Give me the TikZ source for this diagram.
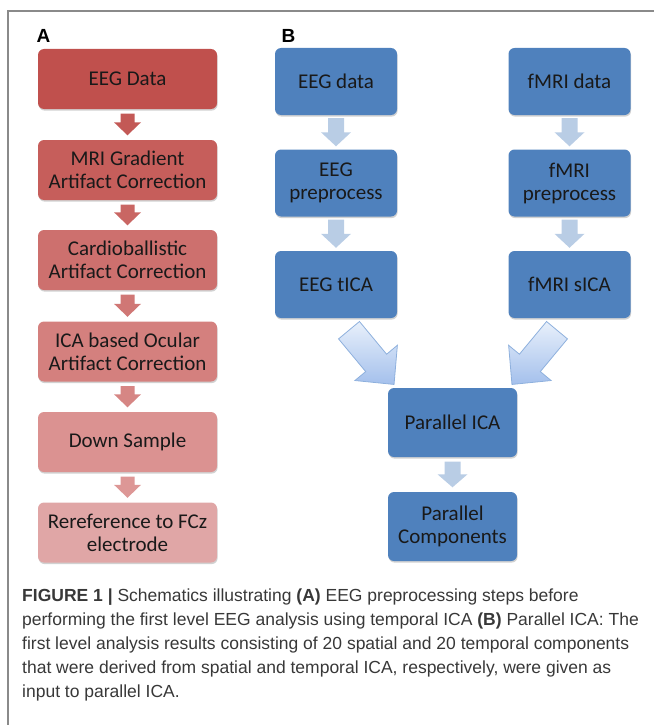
\documentclass[tikz,border=0pt]{standalone}
\usepackage{fontspec}
\setmainfont{Carlito}
\newfontfamily\capfont{Liberation Sans}
\usetikzlibrary{calc,shadows}
\definecolor{aone}{HTML}{C0504D}
\definecolor{atwo}{HTML}{C65E5B}
\definecolor{athree}{HTML}{CD706E}
\definecolor{afour}{HTML}{D4807E}
\definecolor{afive}{HTML}{DB9291}
\definecolor{asix}{HTML}{E0A6A6}
\definecolor{bblue}{HTML}{4F81BD}
\definecolor{bsmall}{HTML}{B9CDE5}
\definecolor{bigedge}{HTML}{8EB0DD}
\definecolor{bigtop}{HTML}{E8F0FB}
\definecolor{bigbot}{HTML}{A4C0EC}
\definecolor{framegray}{HTML}{8A8A8A}
\definecolor{capgray}{HTML}{383838}
\newcommand\vblock[7]{%
  \fill[#7] let \p1=(#1.south), \p2=(#2.north) in
    ({\x1-#4},{\y1-#3}) -- ({\x1+#4},{\y1-#3}) -- ({\x1+#4},{\y2+#3+#6})
    -- ({\x1+#5},{\y2+#3+#6}) -- ({\x1},{\y2+#3}) -- ({\x1-#5},{\y2+#3+#6})
    -- ({\x1-#4},{\y2+#3+#6}) -- cycle;}
\newcommand\bigarr[2]{%
  \begin{scope}[shift={(#1)},rotate=#2]
    \draw[bigstyle] (0pt,13.6pt) -- (42.5pt,13.6pt) -- (42.5pt,27.6pt) -- (70.5pt,0pt)
      -- (42.5pt,-27.6pt) -- (42.5pt,-13.6pt) -- (0pt,-13.6pt) -- cycle;
  \end{scope}}
\begin{document}
\begin{tikzpicture}[x=1pt,y=-1pt,
  shad/.style={drop shadow={shadow xshift=0.6pt,shadow yshift=-1.6pt,opacity=0.18,fill=black}},
  abox/.style={shad,rounded corners=6pt,minimum width=179pt,minimum height=60pt,
    align=center,inner sep=2pt,text=black!90,font=\fontsize{21}{23}\selectfont},
  bbox/.style={shad,rounded corners=6pt,fill=bblue,minimum width=122pt,minimum height=67pt,
    align=center,inner sep=2pt,text=black!90,font=\fontsize{21}{23}\selectfont},
  bigstyle/.style={draw=bigedge,line width=0.8pt,line join=miter,top color=bigtop,bottom color=bigbot},
  lab/.style={font=\capfont\bfseries\fontsize{19}{19}\selectfont,inner sep=0pt,anchor=south west}]
\useasboundingbox (0,0) rectangle (654,725);
% frame
\draw[framegray,line width=1.5pt] (8,725) -- (8,11) -- (654,11);
% labels
\node[lab] (la) at (36.5,43) {A};
\node[lab] (lb) at (281.5,43) {B};
% panel A
\node[abox,fill=aone]   (a1) at (127.5,79)    {EEG Data};
\node[abox,fill=atwo]   (a2) at (127.5,170)   {MRI Gradient\\Artifact Correction};
\node[abox,fill=athree] (a3) at (127.5,260)   {Cardioballistic\\Artifact Correction};
\node[abox,fill=afour]  (a4) at (127.5,351.5) {ICA based Ocular\\Artifact Correction};
\node[abox,fill=afive]  (a5) at (127.5,442)   {Down Sample};
\node[abox,fill=asix]   (a6) at (127.5,532.5) {Rereference to FCz\\electrode};
\vblock{a1}{a2}{4.5pt}{7pt}{13.5pt}{13pt}{aone!95!white}
\vblock{a2}{a3}{4.5pt}{7pt}{13.5pt}{13pt}{atwo!95!white}
\vblock{a3}{a4}{4.5pt}{7pt}{13.5pt}{13pt}{athree!95!white}
\vblock{a4}{a5}{4.5pt}{7pt}{13.5pt}{13pt}{afour!95!white}
\vblock{a5}{a6}{4.5pt}{7pt}{13.5pt}{13pt}{afive!95!white}
% panel B
\node[bbox] (eegd)  at (336,81.5)   {EEG data};
\node[bbox] (fmrid) at (569.5,81.5) {fMRI data};
\node[bbox] (eegp)  at (336,183)    {EEG\\preprocess};
\node[bbox] (fmrip) at (569.5,183)  {fMRI\\preprocess};
\node[bbox] (eegt)  at (336,284.5)  {EEG tICA};
\node[bbox] (fmrit) at (569.5,284.5){fMRI sICA};
\node[bbox,minimum width=129pt,minimum height=69pt] (pica)  at (452.5,422.5) {Parallel ICA};
\node[bbox,minimum width=129pt,minimum height=69pt] (pcomp) at (452.5,526.5) {Parallel\\Components};
\vblock{eegd}{eegp}{3pt}{8pt}{15pt}{14pt}{bsmall}
\vblock{fmrid}{fmrip}{3pt}{8pt}{15pt}{14pt}{bsmall}
\vblock{eegp}{eegt}{3pt}{8pt}{15pt}{14pt}{bsmall}
\vblock{fmrip}{fmrit}{3pt}{8pt}{15pt}{14pt}{bsmall}
\vblock{pica}{pcomp}{4.5pt}{8pt}{15pt}{13pt}{bsmall}
\coordinate (tl) at ($(eegt.south)+(13,12)$);
\coordinate (tr) at ($(fmrit.south)+(-12.5,12)$);
\bigarr{tl}{-50.3}
\bigarr{tr}{-129.7}
% caption
\node[anchor=north west,align=left,inner sep=0pt,text=capgray,
  font=\capfont\fontsize{17.5}{24}\selectfont] (cap) at (22,589)
 {\textbf{FIGURE 1 |} Schematics illustrating \textbf{(A)} EEG preprocessing steps before\\
  performing the first level EEG analysis using temporal ICA \textbf{(B)} Parallel ICA: The\\
  first level analysis results consisting of 20 spatial and 20 temporal components\\
  that were derived from spatial and temporal ICA, respectively, were given as\\
  input to parallel ICA.};
\end{tikzpicture}
\end{document}
